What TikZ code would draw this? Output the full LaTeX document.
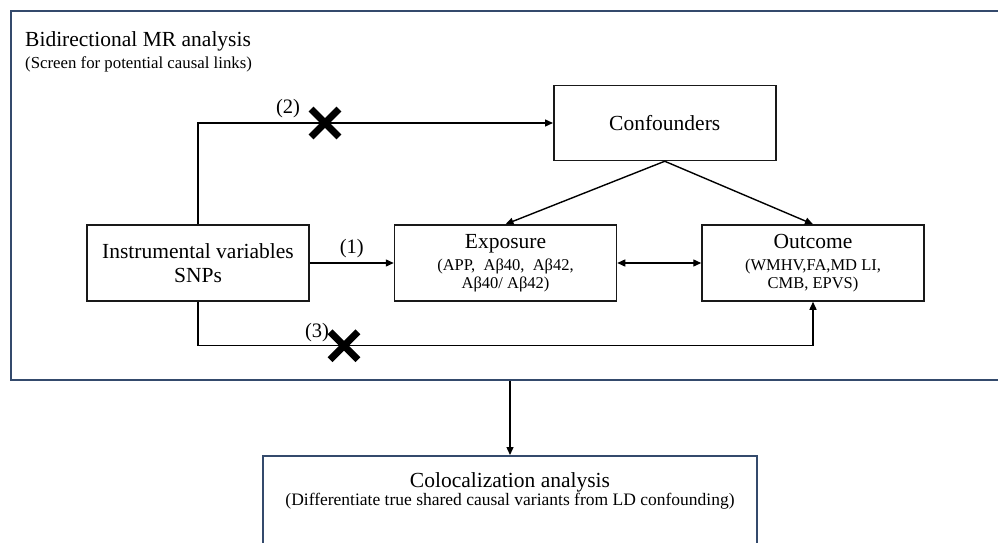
\documentclass[tikz,border=0pt]{standalone}
\usepackage{fontspec}
\setmainfont{Liberation Serif}
\usepackage{tikz}
\usetikzlibrary{arrows.meta, positioning, shapes.misc, calc}
\definecolor{framecol}{RGB}{52,74,108}
\newcommand{\subtxt}[1]{{\fontsize{16.5}{18}\selectfont #1}}

\begin{document}
\begin{tikzpicture}[
  x=1pt, y=-1pt,
  node distance=84pt,
  box/.style={draw=black!90, line width=1.5pt, rectangle,
              minimum width=222pt, minimum height=76pt, inner sep=0pt,
              align=center, font=\fontsize{21.5}{24}\selectfont},
  frame/.style={draw=framecol, line width=1.9pt, rectangle, inner sep=0pt},
  heading/.style={anchor=base west, inner sep=0pt, font=\fontsize{21.5}{24}\selectfont},
  note/.style={inner sep=0pt, font=\fontsize{16.8}{20}\selectfont},
  tag/.style={inner sep=0pt, font=\fontsize{20.5}{24}\selectfont},
  nolink/.style={cross out, draw, line width=6.8pt, minimum size=21pt, inner sep=0pt},
  arrow/.style={-{Triangle[length=8pt, width=7pt]}, line width=1.4pt},
  dblarrow/.style={{Triangle[length=8pt, width=7pt]}-{Triangle[length=8pt, width=7pt]}, line width=1.4pt},
]
\useasboundingbox (0,0) rectangle (998,543);

%% MR frame
\node[frame, anchor=north west, minimum width=1000pt, minimum height=369pt] (mrframe) at (10,10) {};
\node[heading] (mrtitle) at (25,46.7) {Bidirectional MR analysis};
\node[note, anchor=base west] (mrsub) at (25,68.3) {(Screen for potential causal links)};

%% Main row
\node[box] (iv) at (198,263) {Instrumental variables\\SNPs};
\node[box, right=84pt of iv] (expo)
  {Exposure\\[-2pt]\subtxt{(APP,\ \ Aβ40,\ \ Aβ42,}\\[-6pt]\subtxt{Aβ40/ Aβ42)}};
\node[box, right=84pt of expo] (outc)
  {Outcome\\[-2pt]\subtxt{(WMHV,FA,MD LI,}\\[-6pt]\subtxt{CMB, EPVS)}};

%% Confounders
\coordinate (mid) at ($(expo.north)!0.5!(outc.north)$);
\node[box, minimum height=75pt, above=63pt of mid, xshift=5.5pt] (conf) {Confounders};

%% Arrows
\draw[arrow] (iv) -- (expo) node[tag, midway, above=4pt] (lab1) {(1)};
\draw[dblarrow] (expo) -- (outc);
\draw[arrow] (conf.south) -- (expo.north);
\draw[arrow] (conf.south) -- (outc.north);

%% Path (2), blocked
\draw[arrow] (iv.north) |- (conf.west);
\node[nolink] (cut2) at ($(iv.north |- conf.west)+(127,0)$) {};
\node[tag] (lab2) at ($(cut2)+(-37,-14)$) {(2)};

%% Path (3), blocked
\coordinate (low) at ($(iv.south)+(0,44)$);
\draw[arrow] (iv.south) -- (low) -| (outc.south);
\node[nolink] (cut3) at ($(low)+(146,0)$) {};
\node[tag] (lab3) at ($(cut3)+(-27,-13)$) {(3)};

%% Colocalization
\node[frame, line width=1.6pt, anchor=north, minimum width=494pt, minimum height=110pt] (coloc) at (510,455) {};
\node[heading, anchor=base] (coloctitle) at ($(coloc.north)+(0,32)$) {Colocalization analysis};
\node[note, anchor=base, font=\fontsize{17.5}{20}\selectfont] (colocsub) at ($(coloc.north)+(0,50)$)
  {(Differentiate true shared causal variants from LD confounding)};
\draw[arrow] (mrframe.south -| coloc.north) -- (coloc.north);

\end{tikzpicture}
\end{document}
